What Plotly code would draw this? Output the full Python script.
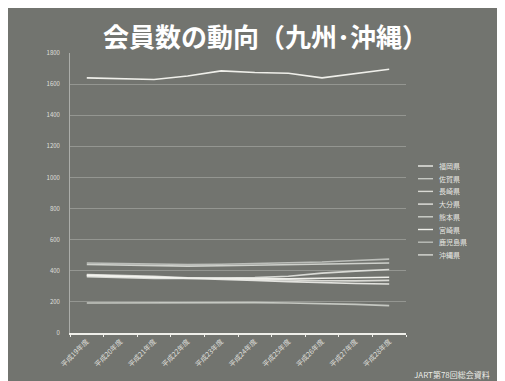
import plotly.graph_objects as go

categories = ["平成19年度", "平成20年度", "平成21年度", "平成22年度", "平成23年度",
              "平成24年度", "平成25年度", "平成26年度", "平成27年度", "平成28年度"]
names = ["福岡県", "佐賀県", "長崎県", "大分県", "熊本県", "宮崎県", "鹿児島県", "沖縄県"]
fukuoka = [1640, 1637, 1630, 1652, 1685, 1675, 1670, 1640, 1668, 1695]
saga = [193, 194, 193, 195, 196, 195, 193, 190, 184, 176]
nagasaki = [375, 372, 365, 355, 350, 345, 342, 336, 335, 338]
oita = [372, 366, 358, 350, 345, 338, 330, 322, 318, 315]
kumamoto = [440, 437, 432, 430, 432, 436, 440, 445, 448, 450]
miyazaki = [368, 362, 356, 352, 352, 350, 348, 352, 355, 358]
kagoshima = [450, 447, 442, 440, 442, 446, 450, 456, 466, 475]
okinawa = [362, 355, 350, 350, 352, 356, 365, 385, 398, 408]
series = [fukuoka, saga, nagasaki, oita, kumamoto, miyazaki, kagoshima, okinawa]
colors = ["rgba(245,245,240,0.95)", "rgba(225,228,222,0.75)", "rgba(235,235,230,0.85)",
          "rgba(240,240,235,0.9)", "rgba(230,232,228,0.8)", "rgba(245,245,240,0.95)",
          "rgba(220,222,218,0.7)", "rgba(235,236,232,0.85)"]

BG = "#72746f"
fig = go.Figure()
for nm, vals, col in zip(names, series, colors):
    fig.add_trace(go.Scatter(x=categories, y=vals, mode="lines", name=nm,
                             line=dict(color=col, width=1.6), showlegend=False))

# custom compact legend
W, H = 336.0, 280.0
for i, (nm, col) in enumerate(zip(names, colors)):
    ypx = 158 + i * 12.7
    yp = (325 - ypx) / H
    fig.add_shape(type="line", xref="paper", yref="paper",
                  x0=(410 - 62) / W, x1=(425 - 62) / W, y0=yp, y1=yp,
                  line=dict(color=col, width=1.4))
    fig.add_annotation(xref="paper", yref="paper", x=(429 - 62) / W, y=yp,
                       text=nm, showarrow=False, xanchor="left", yanchor="middle",
                       font=dict(size=7, color="rgba(240,240,235,0.95)", family="Noto Sans CJK JP"))

fig.add_annotation(xref="paper", yref="paper", x=(404 - 62) / W, y=(325 - 366) / H,
                   text="JART第78回総会資料", showarrow=False, xanchor="left", yanchor="middle",
                   font=dict(size=8, color="rgba(245,245,240,0.95)", family="Noto Sans CJK JP"))

fig.update_layout(
    width=505, height=381,
    margin=dict(l=62, r=107, t=45, b=56),
    paper_bgcolor=BG, plot_bgcolor=BG,
    title=dict(text="<b>会員数の動向（九州･沖縄）</b>", x=0.51, xanchor="center",
               y=1 - 30 / 381, yanchor="middle", yref="container",
               font=dict(size=26, color="white", family="Noto Sans CJK JP")),
    font=dict(family="Noto Sans CJK JP", color="rgba(235,235,230,0.9)"),
    xaxis=dict(type="category", tickangle=-45, tickfont=dict(size=7),
               showgrid=False, showline=True, linecolor="rgba(245,245,240,0.95)", linewidth=1.5,
               ticks="outside", ticklen=2, tickcolor="rgba(245,245,240,0.95)",
               tickson="boundaries", range=[-0.5, 9.5]),
    yaxis=dict(range=[0, 1800], dtick=200, tickfont=dict(size=6),
               showgrid=True, gridcolor="rgba(200,202,198,0.4)", gridwidth=0.8,
               showline=True, linecolor="rgba(210,212,208,0.6)", linewidth=0.8,
               zeroline=False, ticks="", ticklabelstandoff=8),
)
fig.write_html("out.html")
